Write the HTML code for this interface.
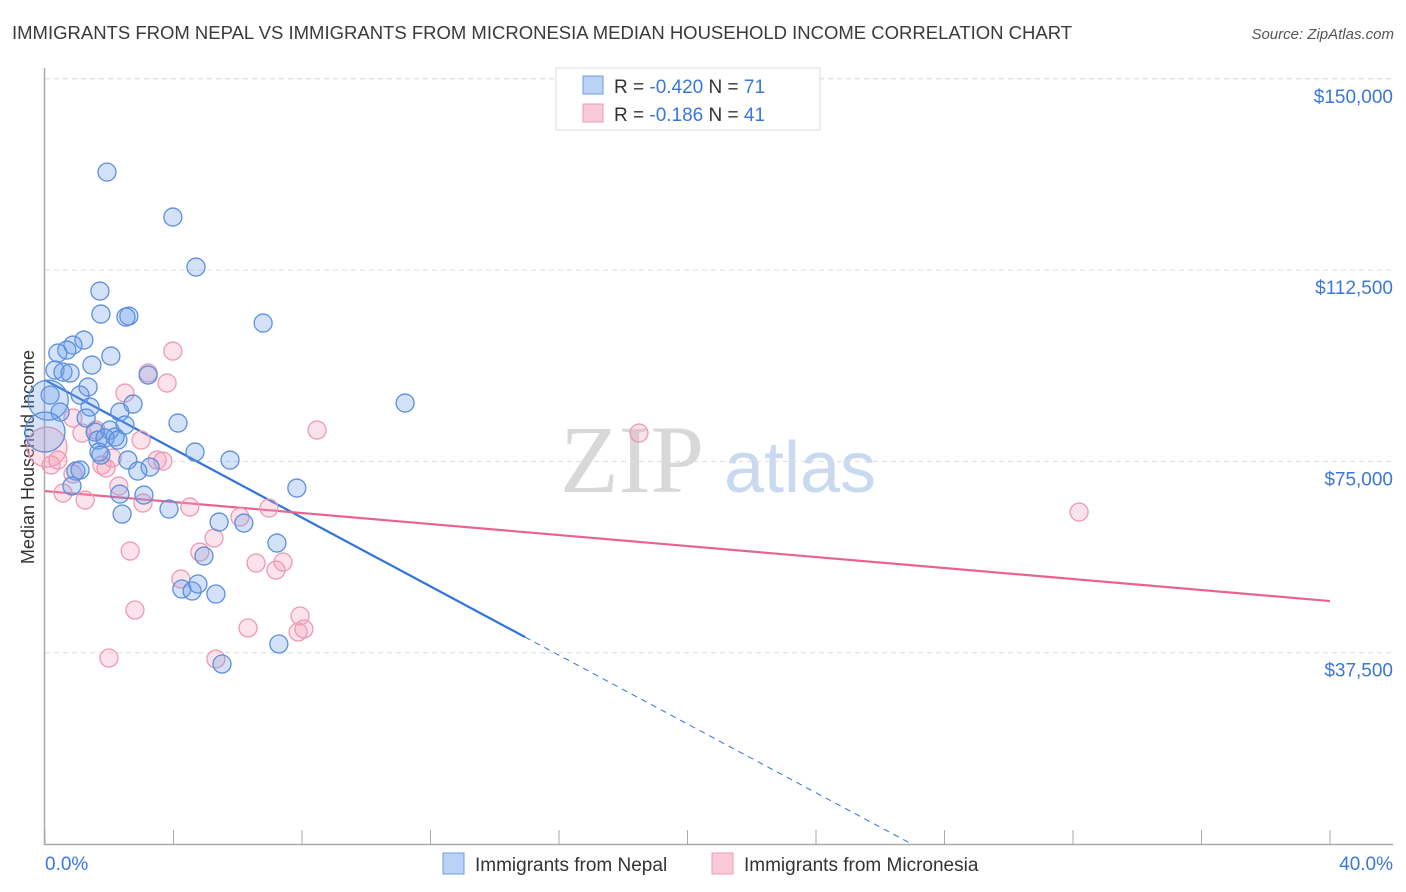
<!DOCTYPE html>
<html><head><meta charset="utf-8"><style>
body{margin:0;background:#fff;font-family:"Liberation Sans",sans-serif;}
#wrap{position:relative;width:1406px;height:892px;overflow:hidden;}
</style></head><body>
<div id="wrap">
<svg id="svg" width="1406" height="892" xmlns="http://www.w3.org/2000/svg">
<text x="12" y="39" font-size="18.5" fill="#3a3a3a">IMMIGRANTS FROM NEPAL VS IMMIGRANTS FROM MICRONESIA MEDIAN HOUSEHOLD INCOME CORRELATION CHART</text>
<text x="1394" y="39" font-size="15" fill="#555" font-style="italic" text-anchor="end">Source: ZipAtlas.com</text>
<text x="34" y="457" font-size="18" fill="#333" text-anchor="middle" transform="rotate(-90 34 457)">Median Household Income</text>
<g>
<text x="632" y="492" font-size="96" fill="#d8d8d8" font-family="Liberation Serif" text-anchor="middle">ZIP</text>
<text x="800" y="492" font-size="72" fill="#c9d9f0" text-anchor="middle">atlas</text>
</g>
<g id="grid"></g><g id="axes"></g><g id="lines"></g><g id="pts"></g>
<g>
<rect x="556" y="68" width="264" height="62" fill="#fff" stroke="#ddd"/>
<rect x="583" y="76" width="20" height="18" fill="#b9d2f5" stroke="#6e9ee0"/>
<rect x="583" y="104" width="20" height="18" fill="#fbcad8" stroke="#ee9bb4"/>
<text x="614" y="93" font-size="19" fill="#333">R = <tspan fill="#3a78d8">-0.420</tspan>   N = <tspan fill="#3a78d8">71</tspan></text>
<text x="614" y="121" font-size="19" fill="#333">R =  <tspan fill="#3a78d8"> -0.186</tspan>   N = <tspan fill="#3a78d8">41</tspan></text>
</g>
<g>
<rect x="443" y="853" width="21" height="21" fill="#b9d2f5" stroke="#6e9ee0"/>
<text x="475" y="871" font-size="19" fill="#333">Immigrants from Nepal</text>
<rect x="712" y="853" width="21" height="21" fill="#fbcad8" stroke="#ee9bb4"/>
<text x="744" y="871" font-size="19" fill="#333">Immigrants from Micronesia</text>
</g>
</svg></div>
<script>
const yTicks=[37500,75000,112500,150000];
const yTickLabels=["$37,500","$75,000","$112,500","$150,000"];
const xTickLabels=["0.0%","40.0%"];
const nepalX=[1.93,3.98,4.70,1.71,6.79,1.74,2.61,2.52,1.21,0.87,0.68,2.05,0.40,1.46,0.31,0.56,0.78,1.34,3.21,11.21,1.09,0.16,0.47,1.40,2.33,2.74,4.14,1.28,1.56,2.49,2.02,2.18,1.65,1.87,2.27,4.67,1.68,1.74,2.58,5.76,3.27,2.89,0.96,1.09,7.84,2.33,3.08,3.86,0.84,2.40,5.42,6.19,7.22,4.95,4.26,4.58,4.76,5.32,7.28,5.51,0.1,0.0];
const nepalY=[131712,122892,113092,108388,102116,103880,103488,103292,98784,97804,96824,95648,96236,93884,92904,92512,92316,89572,91924,86436,88004,88004,84672,85652,84672,86240,82516,83496,80752,82124,81144,79772,79184,79576,79184,76832,76832,76244,75264,75264,73892,73108,73108,73304,69776,68600,68404,65660,70168,64680,63112,62916,58996,56448,49980,49588,50960,49000,39200,35280,87000,80752];
const nepalBig=[0,0,0,0,0,0,0,0,0,0,0,0,0,0,0,0,0,0,0,0,0,0,0,0,0,0,0,0,0,0,0,0,0,0,0,0,0,0,0,0,0,0,0,0,0,0,0,0,0,0,0,0,0,0,0,0,0,0,0,0,1,1];
const micX=[0.06,0.56,0.19,0.40,0.87,1.15,1.25,1.59,1.77,1.90,2.09,2.30,2.49,2.65,2.80,1.99,3.05,2.99,3.21,3.49,3.67,3.80,3.98,4.23,4.51,4.82,5.26,5.32,6.07,6.32,6.57,6.97,7.19,7.41,7.94,7.88,8.06,8.47,18.49,32.19,0.87];
const micY=[77812,68796,74284,75264,83496,80556,67424,81144,74284,73696,75656,70168,88396,57428,45864,36456,66836,79184,92316,75264,75068,90356,96628,51940,66052,57232,59976,36260,64092,42336,55076,65856,53704,55272,44688,41552,42140,81144,80556,65072,72520];
const micBig=[1,0,0,0,0,0,0,0,0,0,0,0,0,0,0,0,0,0,0,0,0,0,0,0,0,0,0,0,0,0,0,0,0,0,0,0,0,0,0,0,0];
const nepalTrend=[90944,-3371];
const micTrend=[69188,-539];
const NS="http://www.w3.org/2000/svg";
const X0=45,X1=1330,Y0=844,PXPER=191.3/37500;
function sx(v){return X0+v/40*(X1-X0);}
function sy(v){return Y0-v*PXPER;}
function mk(tag,attrs,parent){const e=document.createElementNS(NS,tag);for(const k in attrs)e.setAttribute(k,attrs[k]);document.getElementById(parent).appendChild(e);return e;}
yTicks.forEach((t,i)=>{
 const l=mk('line',{x1:45,x2:1393,y1:sy(t),y2:sy(t),stroke:'#ddd','stroke-dasharray':'5,4'},'grid');
 
 
 const tx=mk('text',{x:1393,y:sy(t)+24,'font-size':19,fill:'#3a78d8','text-anchor':'end'},'axes');
 tx.textContent=yTickLabels[i];
 
 
});
mk('line',{x1:45,x2:1393,y1:sy(150000)-0,y2:sy(150000),stroke:'#ddd','stroke-dasharray':'5,4'},'grid');
const ya=mk('line',{x1:44.5,x2:44.5,y1:68,y2:845,stroke:'#aaa','stroke-width':1.5},'axes');


const xa=mk('line',{x1:45,x2:1393,y1:844.5,y2:844.5,stroke:'#aaa','stroke-width':1.5},'axes');


for(let i=0;i<=10;i++){const t=mk('line',{x1:sx(i*4),x2:sx(i*4),y1:830,y2:845,stroke:'#aaa'},'axes');
 
 }
const xl0=mk('text',{x:45,y:870,'font-size':19,fill:'#3a78d8'},'axes');xl0.textContent=xTickLabels[0];


const xl1=mk('text',{x:1393,y:870,'font-size':19,fill:'#3a78d8','text-anchor':'end'},'axes');xl1.textContent=xTickLabels[1];


function drawPts(xs,ys,big,fill,stroke,name){xs.forEach((x,i)=>{
 const c=mk('circle',{cx:sx(x),cy:sy(ys[i]),r:big[i]?20:9,fill:fill,stroke:stroke,'stroke-width':1.3},'pts');
 
 });}
drawPts(micX,micY,micBig,'rgba(244,160,185,0.3)','#ec9ab2','micronesia-point');
drawPts(nepalX,nepalY,nepalBig,'rgba(110,160,235,0.3)','#5b8fde','nepal-point');
const nEnd=14.94, nZero=-nepalTrend[0]/nepalTrend[1];
const bl=mk('line',{x1:sx(0),y1:sy(nepalTrend[0]),x2:sx(nEnd),y2:sy(nepalTrend[0]+nepalTrend[1]*nEnd),stroke:'#2f74d8','stroke-width':2.2},'lines');


const bd=mk('line',{x1:sx(nEnd),y1:sy(nepalTrend[0]+nepalTrend[1]*nEnd),x2:sx(nZero),y2:sy(0),stroke:'#2f74d8','stroke-width':1,'stroke-dasharray':'6,5'},'lines');


const pl=mk('line',{x1:sx(0),y1:sy(micTrend[0]),x2:sx(40),y2:sy(micTrend[0]+micTrend[1]*40),stroke:'#e8648f','stroke-width':2.2},'lines');


</script>
</body></html>
